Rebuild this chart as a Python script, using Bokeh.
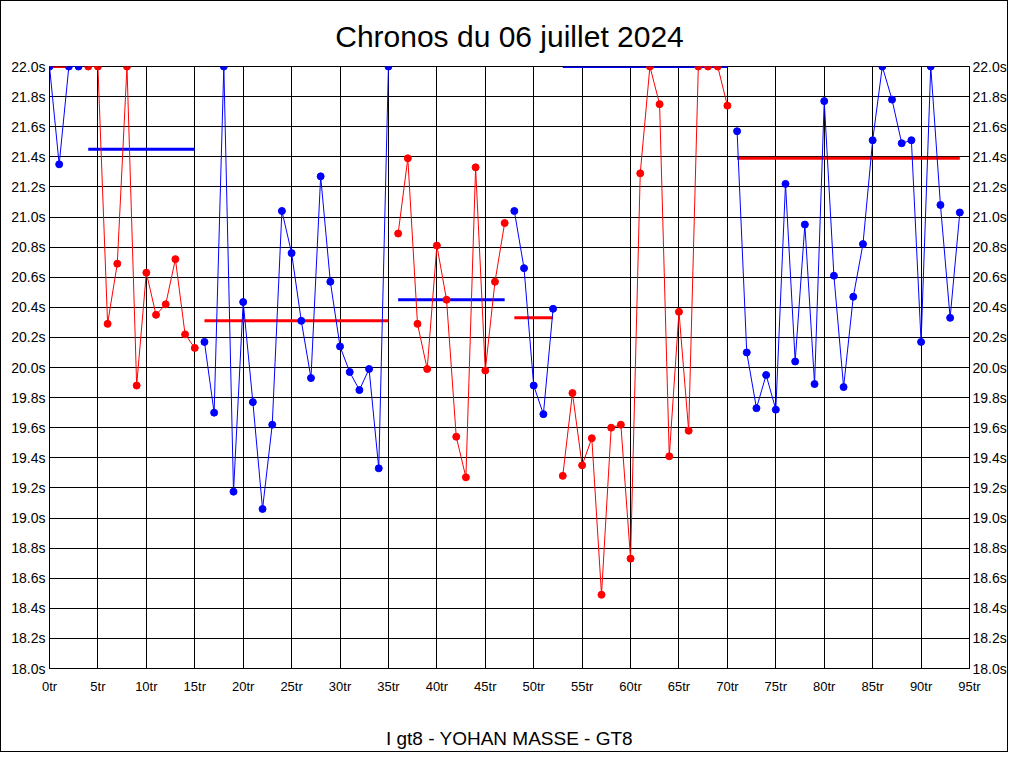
from bokeh.plotting import figure
from bokeh.models import FixedTicker, PrintfTickFormatter, LinearAxis, Title, Range1d
from bokeh.embed import file_html
from bokeh.resources import INLINE

# ---------------- data ----------------
title_text = "Chronos du 06 juillet 2024"
subtitle_text = "I gt8 - YOHAN MASSE - GT8"

laps = list(range(95))
lap_times = [
    22.0, 21.35, 22.0, 22.0, 22.0, 22.0, 20.29, 20.69, 22.0, 19.88,
    20.63, 20.35, 20.42, 20.72, 20.22, 20.13, 20.17, 19.70, 22.0, 19.175,
    20.435, 19.77, 19.06, 19.62, 21.04, 20.76, 20.31, 19.93, 21.27, 20.57,
    20.14, 19.97, 19.85, 19.99, 19.33, 22.0, 20.89, 21.39, 20.29, 19.99,
    20.81, 20.45, 19.54, 19.27, 21.33, 19.98, 20.57, 20.96, 21.04, 20.66,
    19.88, 19.69, 20.39, 19.28, 19.83, 19.35, 19.53, 18.49, 19.60, 19.62,
    18.73, 21.29, 22.0, 21.75, 19.41, 20.37, 19.58, 22.0, 22.0, 22.0,
    21.74, 21.57, 20.10, 19.73, 19.95, 19.72, 21.22, 20.04, 20.95, 19.89,
    21.77, 20.61, 19.87, 20.47, 20.82, 21.51, 22.0, 21.78, 21.49, 21.51,
    20.17, 22.0, 21.08, 20.33, 21.03,
]

# stints: first lap, last lap, colour of points
stint_start = [0, 4, 16, 36, 48, 53, 71]
stint_end = [3, 15, 35, 47, 52, 70, 94]
stint_color = ["#0000FF", "#FF0000", "#0000FF", "#FF0000", "#0000FF", "#FF0000", "#0000FF"]

# stint average lines
avg_from = [0, 4, 16, 36, 48, 53, 71]
avg_to = [2, 15, 35, 47, 52, 70, 94]
avg_value = [22.0, 21.45, 20.31, 20.45, 20.33, 22.0, 21.39]
avg_color = ["#FF0000", "#0000FF", "#FF0000", "#0000FF", "#FF0000", "#0000FF", "#FF0000"]

x_ticks = list(range(0, 96, 5))
y_ticks = [round(18.0 + 0.2 * i, 1) for i in range(21)]

# ---------------- figure ----------------
p = figure(width=1008, height=752, output_backend="svg", toolbar_location=None,
           x_range=Range1d(0, 95), y_range=Range1d(18.0, 22.0),
           min_border_left=48, min_border_right=30, min_border_top=65, min_border_bottom=85)
p.styles = {"border": "1px solid black", "box-sizing": "border-box"}
p.background_fill_color = "white"
p.border_fill_color = "white"
p.outline_line_color = "black"
p.outline_line_width = 1

for ax in [p.xaxis[0], p.yaxis[0]]:
    ax.major_tick_line_color = None
    ax.minor_tick_line_color = None
    ax.major_tick_out = 0
    ax.major_tick_in = 0
    ax.minor_tick_out = 0
    ax.axis_line_color = "black"
    ax.major_label_text_font = "Liberation Sans"
    ax.major_label_text_color = "black"

p.xaxis.ticker = FixedTicker(ticks=x_ticks)
p.xaxis.formatter = PrintfTickFormatter(format="%dtr")
p.xaxis.major_label_text_font_size = "13px"
p.xaxis.major_label_standoff = 10
p.xaxis.axis_label = subtitle_text
p.xaxis.axis_label_text_font = "Liberation Sans"
p.xaxis.axis_label_text_font_size = "19px"
p.xaxis.axis_label_text_font_style = "normal"
p.xaxis.axis_label_text_color = "black"
p.xaxis.axis_label_standoff = 31

p.yaxis.ticker = FixedTicker(ticks=y_ticks)
p.yaxis.formatter = PrintfTickFormatter(format="%.1fs")
p.yaxis.major_label_text_font_size = "14px"
p.yaxis.major_label_standoff = 4

ry = LinearAxis(ticker=FixedTicker(ticks=y_ticks), formatter=PrintfTickFormatter(format="%.1fs"))
ry.major_tick_line_color = None
ry.minor_tick_line_color = None
ry.major_tick_out = 0
ry.major_tick_in = 0
ry.minor_tick_out = 0
ry.axis_line_color = "black"
ry.major_label_text_font = "Liberation Sans"
ry.major_label_text_font_size = "14px"
ry.major_label_text_color = "black"
ry.major_label_standoff = 3
p.add_layout(ry, "right")

p.xgrid.ticker = FixedTicker(ticks=x_ticks)
p.ygrid.ticker = FixedTicker(ticks=y_ticks)
for g in [p.xgrid[0], p.ygrid[0]]:
    g.grid_line_color = "black"
    g.grid_line_alpha = 1.0
    g.grid_line_width = 1

# average lines
p.segment(x0=avg_from, y0=avg_value, x1=avg_to, y1=avg_value,
          line_color=avg_color, line_width=3)

# stints
for s, e, c in zip(stint_start, stint_end, stint_color):
    xs = laps[s:e + 1]
    ys = lap_times[s:e + 1]
    p.line(xs, ys, line_color=c, line_width=1)
    p.scatter(xs, ys, size=7, fill_color=c, line_color=c)

p.add_layout(Title(text=title_text, align="center", text_font="Liberation Sans",
                   text_font_size="30px", text_font_style="normal", text_color="black",
                   standoff=28), "above")

open("out.html", "w").write(file_html(p, INLINE))
